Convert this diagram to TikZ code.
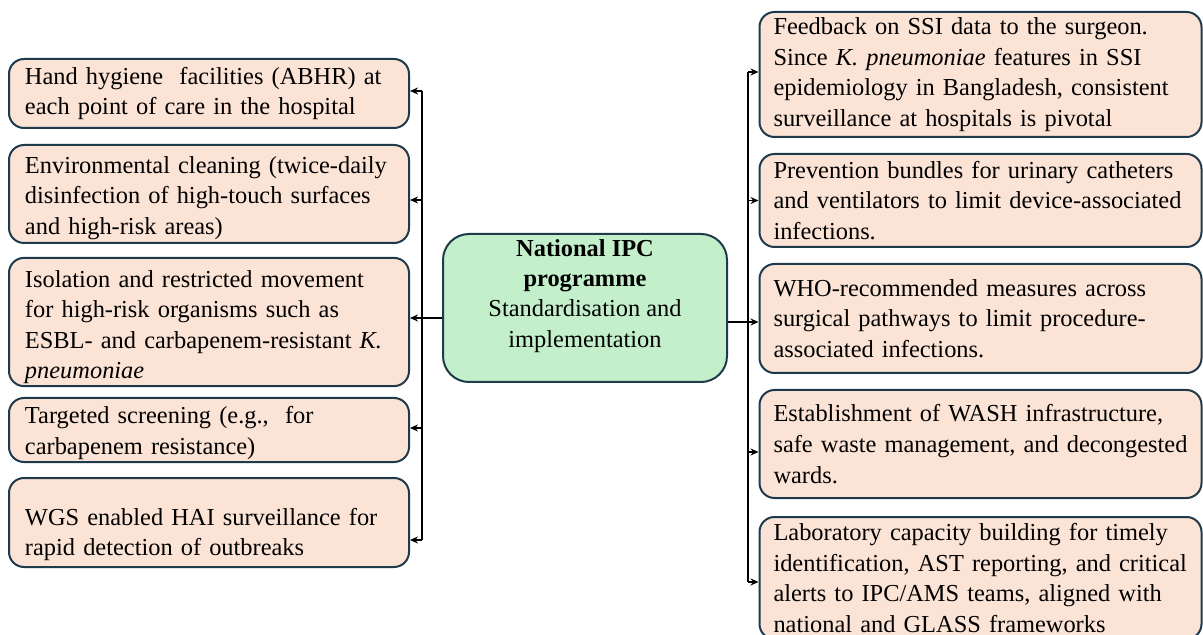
\documentclass[tikz,border=0pt]{standalone}
\usepackage{fontspec}
\setmainfont{Liberation Serif}
\usetikzlibrary{arrows.meta}
\definecolor{MeasureFill}{HTML}{FBE3D6}
\definecolor{HubFill}{HTML}{C3F0CA}
\definecolor{BoxLine}{HTML}{1E3A4C}

\begin{document}
\begin{tikzpicture}[x=0.5pt,y=-0.5pt,
        measure/.style={draw=BoxLine,line width=1pt,fill=MeasureFill,rounded corners=7.5pt,
          align=left,inner ysep=1pt,font=\fontsize{12.2}{15.3}\selectfont},
        left measure/.style={measure,inner xsep=8pt,text width=184pt},
        right measure/.style={measure,inner xsep=7pt,text width=207pt},
        hub/.style={draw=BoxLine,line width=1pt,fill=HubFill,rounded corners=13pt,align=center,
          minimum width=142pt,minimum height=74pt,inner sep=1pt,font=\fontsize{12.2}{15.1}\selectfont},
        link/.style={line width=0.8pt},
        tip/.style={link,-{Stealth[length=4pt,width=3.5pt]}}]
        \useasboundingbox (0,0) rectangle (1203,635);
        \clip (0,0) rectangle (1203,635);

        \node[hub] (hub) at (585,308) {\textbf{National IPC}\\\textbf{programme}\\Standardisation and\\implementation\\[-5pt]\strut};

        \node[left measure,minimum height=34.5pt] (l1) at (209,93.5) {Hand hygiene~ facilities (ABHR) at\\each point of care in the hospital};
        \node[left measure,minimum height=49pt] (l2) at (209,194) {\rule{0pt}{12.6pt}Environmental cleaning (twice-daily\\disinfection of high-touch surfaces\\and high-risk areas)};
        \node[left measure,minimum height=62pt] (l3) at (209,322) {\rule{0pt}{13.6pt}Isolation and restricted movement\\for high-risk organisms such as\\ESBL- and carbapenem-resistant \textit{K.}\\\textit{pneumoniae}};
        \node[left measure,minimum height=32pt] (l4) at (209,430) {\rule{0pt}{11.6pt}Targeted screening (e.g.,~ for\\carbapenem resistance)};
        \node[left measure,minimum height=44.5pt] (l5) at (209,522.5) {\rule{0pt}{20.6pt}WGS enabled HAI surveillance for\\rapid detection of outbreaks};

        \node[right measure,minimum height=62.5pt] (r1) at (980.5,74.5) {Feedback on SSI data to the surgeon.\\Since \textit{K. pneumoniae} features in SSI\\epidemiology in Bangladesh, consistent\\surveillance at hospitals is pivotal};
        \node[right measure,minimum height=46.5pt] (r2) at (980.5,200.5) {Prevention bundles for urinary catheters\\and ventilators to limit device-associated\\infections.};
        \node[right measure,minimum height=54.5pt] (r3) at (980.5,318.5) {WHO-recommended measures across\\surgical pathways to limit procedure-\\associated infections.};
        \node[right measure,minimum height=54pt] (r4) at (980.5,444) {Establishment of WASH infrastructure,\\safe waste management, and decongested\\wards.};
        \node[right measure,minimum height=61pt] (r5) at (980.5,578) {Laboratory capacity building for timely\\identification, AST reporting, and critical\\alerts to IPC/AMS teams, aligned with\\national and GLASS frameworks};

        \coordinate (ltop) at (422,91);
        \coordinate (ljoin) at (422,318);
        \coordinate (lbot) at (422,540);
        \coordinate (rtop) at (748,72);
        \coordinate (rjoin) at (748,322);
        \coordinate (rbot) at (748,582);

        \draw[link] (ltop) -- (lbot);
        \draw[link] (ljoin -| hub.west) -- (ljoin);
        \draw[tip] (ltop) -- (ltop -| l1.east);
        \draw[tip] (422,200) -- (l2.east |- 422,200);
        \draw[tip] (ljoin) -- (ljoin -| l3.east);
        \draw[tip] (422,428) -- (l4.east |- 422,428);
        \draw[tip] (lbot) -- (lbot -| l5.east);

        \draw[link] (rtop) -- (rbot);
        \draw[link] (rjoin -| hub.east) -- (rjoin);
        \draw[tip] (rtop) -- (rtop -| r1.west);
        \draw[tip] (748,200.5) -- (r2.west |- 748,200.5);
        \draw[tip] (rjoin) -- (rjoin -| r3.west);
        \draw[tip] (748,452) -- (r4.west |- 748,452);
        \draw[tip] (rbot) -- (rbot -| r5.west);
      \end{tikzpicture}
\end{document}
